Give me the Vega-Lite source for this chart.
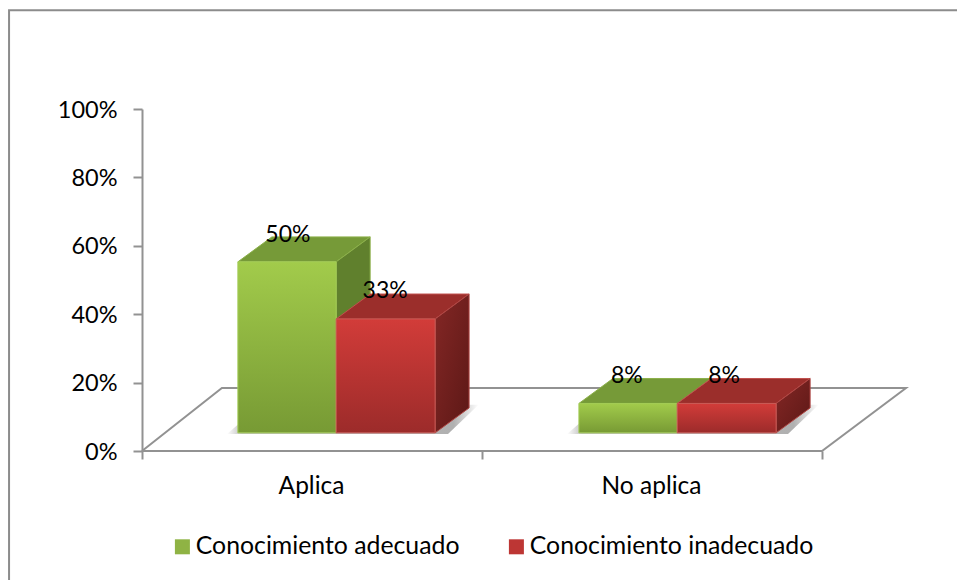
{
"$schema":"https://vega.github.io/schema/vega-lite/v6.json",
"width":764,"height":342,
"autosize":{"type":"none"},
"padding":{"left":142,"top":109,"right":51,"bottom":129},
"background":"white",
"config":{"view":{"stroke":null},"font":"Lato"},
"datasets":{
"bars":[
{"cat":"Aplica","series":"Conocimiento adecuado","value":50,"label":"50%","x":0.429,"y":63.5},
{"cat":"Aplica","series":"Conocimiento inadecuado","value":33,"label":"33%","x":0.715,"y":47},
{"cat":"No aplica","series":"Conocimiento adecuado","value":8,"label":"8%","x":1.426,"y":22.2},
{"cat":"No aplica","series":"Conocimiento inadecuado","value":8,"label":"8%","x":1.712,"y":22.2}
],
"frame":[{"o":1,"x":2.4,"y":128.9},{"o":2,"x":-0.391,"y":128.9},{"o":3,"x":-0.391,"y":-39}],
"floor":[
{"o":1,"x":0,"y":0},{"o":2,"x":0.235,"y":18.4},{"o":3,"x":2.247,"y":18.4},{"o":4,"x":2,"y":0},{"o":5,"x":0,"y":0}
],
"shadow":[
{"bar":"A","y":5.0,"x":0.25,"x2":0.9},
{"bar":"A","y":13.5,"x":0.35,"x2":0.99},
{"bar":"N","y":5.0,"x":1.25,"x2":1.9},
{"bar":"N","y":13.5,"x":1.35,"x2":1.99}
],
"faces":[
{"s":"g","face":"front","bar":"A","x":0.282,"x2":0.571,"y":55.3,"y2":5.3},
{"s":"g","face":"front","bar":"N","x":1.285,"x2":1.574,"y":13.9,"y2":5.3},
{"s":"r","face":"front","bar":"A","x":0.571,"x2":0.862,"y":38.6,"y2":5.3},
{"s":"r","face":"front","bar":"N","x":1.574,"x2":1.865,"y":13.9,"y2":5.3},
{"s":"g","face":"top","bar":"A","y":55.3,"x":0.282,"x2":0.571},
{"s":"g","face":"top","bar":"A","y":62.6,"x":0.382,"x2":0.671},
{"s":"g","face":"top","bar":"N","y":13.9,"x":1.285,"x2":1.574},
{"s":"g","face":"top","bar":"N","y":21.2,"x":1.385,"x2":1.674},
{"s":"r","face":"top","bar":"A","y":38.6,"x":0.571,"x2":0.862},
{"s":"r","face":"top","bar":"A","y":45.9,"x":0.671,"x2":0.962},
{"s":"r","face":"top","bar":"N","y":13.9,"x":1.574,"x2":1.865},
{"s":"r","face":"top","bar":"N","y":21.2,"x":1.674,"x2":1.965},
{"s":"g","face":"side","bar":"A","x":0.571,"y":55.3,"y2":5.3},
{"s":"g","face":"side","bar":"A","x":0.671,"y":62.6,"y2":12.6},
{"s":"r","face":"side","bar":"A","x":0.862,"y":38.6,"y2":5.3},
{"s":"r","face":"side","bar":"A","x":0.962,"y":45.9,"y2":12.6},
{"s":"r","face":"side","bar":"N","x":1.865,"y":13.9,"y2":5.3},
{"s":"r","face":"side","bar":"N","x":1.965,"y":21.2,"y2":12.6}
]
},
"encoding":{
"x":{"field":"x","type":"quantitative","scale":{"domain":[0,2.247],"nice":false,"zero":false},
"axis":{"title":null,"grid":false,"domain":false,"values":[0,0.5,1,1.5,2],"tickSize":8,"tickWidth":2,
"tickColor":{"condition":{"test":"datum.value%1==0","value":"#929292"},"value":"transparent"},
"labelExpr":"datum.value==0.5?'Aplica':datum.value==1.5?'No aplica':''","labelFontSize":24.5,"labelColor":"#000000","labelPadding":15,"labelOverlap":false,"labelFlush":false,"labelBound":false,"labelFont":"Lato","labelOffset":-1}},
"y":{"field":"y","type":"quantitative","scale":{"domain":[0,100],"nice":false},
"axis":{"title":null,"grid":false,"values":[0,20,40,60,80,100],"domainColor":"#929292","domainWidth":2,"tickColor":"#929292","tickWidth":2,"tickSize":9,"labelExpr":"datum.value+'%'","labelFontSize":23.5,"labelColor":"#000000","labelPadding":16,"labelFont":"Lato","labelOverlap":false,"labelBound":false,"labelOffset":1}}
},
"layer":[
{"data":{"name":"frame"},"mark":{"type":"line","color":"#8c8c8c","strokeWidth":2},"encoding":{"order":{"field":"o"}}},
{"data":{"name":"floor"},"mark":{"type":"line","color":"#929292","strokeWidth":2},"encoding":{"order":{"field":"o"}}},
{"data":{"name":"shadow"},"mark":{"type":"area","orient":"horizontal","fill":{"gradient":"linear","x1":0,"y1":0,"x2":1,"y2":0,"stops":[{"offset":0,"color":"#ffffff"},{"offset":0.06,"color":"#c0c0c0"},{"offset":0.9,"color":"#b0b0b0"},{"offset":1,"color":"#ffffff"}]}},"encoding":{"x2":{"field":"x2"},"detail":{"field":"bar"}}},
{"data":{"name":"faces"},"transform":[{"filter":"datum.s=='g'&&datum.face=='top'"}],"mark":{"type":"area","orient":"horizontal","fill":"#769a38","stroke":"#8cb04a","strokeWidth":1},"encoding":{"x2":{"field":"x2"},"detail":{"field":"bar"}}},
{"data":{"name":"faces"},"transform":[{"filter":"datum.s=='g'&&datum.face=='side'"}],"mark":{"type":"area","fill":"#60802d","stroke":"#8cb04a","strokeWidth":1},"encoding":{"y2":{"field":"y2"},"detail":{"field":"bar"}}},
{"data":{"name":"faces"},"transform":[{"filter":"datum.s=='g'&&datum.face=='front'"}],"mark":{"type":"rect","stroke":"#a3cc55","strokeWidth":1,"fill":{"gradient":"linear","x1":0,"y1":0,"x2":0,"y2":1,"stops":[{"offset":0,"color":"#a2cb4b"},{"offset":1,"color":"#779a34"}]}},"encoding":{"x2":{"field":"x2"},"y2":{"field":"y2"}}},
{"data":{"name":"faces"},"transform":[{"filter":"datum.s=='r'&&datum.face=='top'"}],"mark":{"type":"area","orient":"horizontal","fill":"#9b2e2b","stroke":"#c0504d","strokeWidth":1},"encoding":{"x2":{"field":"x2"},"detail":{"field":"bar"}}},
{"data":{"name":"faces"},"transform":[{"filter":"datum.s=='r'&&datum.face=='side'"}],"mark":{"type":"area","stroke":"#b04643","strokeWidth":1,"fill":{"gradient":"linear","x1":0,"y1":0,"x2":1,"y2":1,"stops":[{"offset":0,"color":"#842725"},{"offset":1,"color":"#5c1816"}]}},"encoding":{"y2":{"field":"y2"},"detail":{"field":"bar"}}},
{"data":{"name":"faces"},"transform":[{"filter":"datum.s=='r'&&datum.face=='front'"}],"mark":{"type":"rect","stroke":"#c95a55","strokeWidth":1,"fill":{"gradient":"linear","x1":0,"y1":0,"x2":0,"y2":1,"stops":[{"offset":0,"color":"#d23c39"},{"offset":1,"color":"#9c2b2a"}]}},"encoding":{"x2":{"field":"x2"},"y2":{"field":"y2"}}},
{"data":{"name":"bars"},"mark":{"type":"text","fontSize":23,"font":"Lato","color":"#000000","baseline":"middle","align":"center","dy":1},"encoding":{"text":{"field":"label"}}},
{"data":{"name":"bars"},"mark":{"type":"square","opacity":0,"size":1},
 "encoding":{"color":{"field":"series","type":"nominal","scale":{"domain":["Conocimiento adecuado","Conocimiento inadecuado"],"range":["#8fb344","#bd3634"]},
 "legend":{"title":null,"orient":"none","direction":"horizontal","legendX":28,"legendY":425,"symbolType":"square","symbolSize":225,"symbolOpacity":1,"symbolStrokeWidth":0,"labelFontSize":24.8,"labelColor":"#000000","labelFont":"Lato","labelLimit":400,"columnPadding":44,"columns":2,"labelOffset":1}}}}
]
}
